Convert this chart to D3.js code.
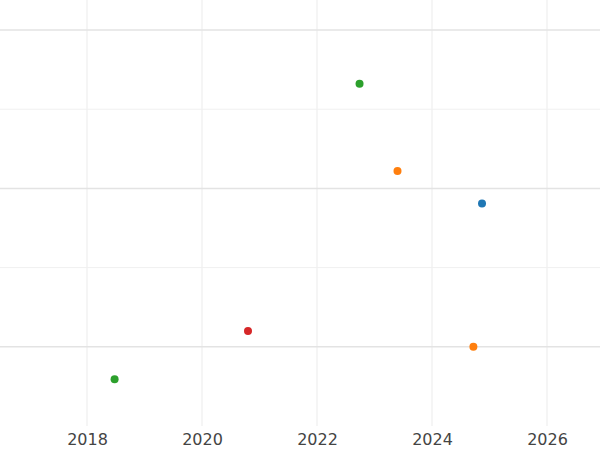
<!DOCTYPE html>
<html><head><meta charset="utf-8">
<script src="https://cdn.jsdelivr.net/npm/d3@7"></script>
<style>body{margin:0;background:#fff}</style></head>
<body><svg id="c" width="600" height="450"></svg>
<script>
const years = [2018.48, 2020.8, 2022.74, 2023.4, 2024.87, 2024.72];
const values = [0.59, 1.2, 4.32, 3.22, 2.81, 1.0];
const colors = ["#2ca02c", "#d62728", "#2ca02c", "#ff7f0e", "#1f77b4", "#ff7f0e"];
const xTicks = [2018, 2020, 2022, 2024, 2026];
const yMajor = [1, 3, 5];
const yMinor = [2, 4];

const svg = d3.select("#c");
const x = d3.scaleLinear().domain([2016.487, 2026.922]).range([0, 600]);
const y = d3.scaleLinear().domain([0, 5]).range([426, 30]);

svg.selectAll(".vg").data(xTicks).join("line")
  .attr("x1", d => x(d)).attr("x2", d => x(d)).attr("y1", 0).attr("y2", 426)
  .attr("stroke", "#ebebeb").attr("stroke-width", 1);
svg.selectAll(".hm").data(yMinor).join("line")
  .attr("x1", 0).attr("x2", 600).attr("y1", d => y(d)).attr("y2", d => y(d))
  .attr("stroke", "#f0f0f0").attr("stroke-width", 1);
svg.selectAll(".hM").data(yMajor).join("line")
  .attr("x1", 0).attr("x2", 600).attr("y1", d => y(d)).attr("y2", d => y(d))
  .attr("stroke", "#e3e3e3").attr("stroke-width", 1.5);

const ax = svg.append("g").attr("transform", "translate(0,426)")
  .call(d3.axisBottom(x).tickValues(xTicks).tickFormat(d3.format("d")).tickSize(0).tickPadding(8));
ax.select(".domain").remove();
ax.selectAll("text").attr("font-family", "DejaVu Sans").attr("font-size", 16).attr("fill", "#444");

svg.selectAll("circle").data(years).join("circle")
  .attr("cx", d => x(d)).attr("cy", (d, i) => y(values[i])).attr("r", 4)
  .attr("fill", (d, i) => colors[i]);
</script></body></html>
